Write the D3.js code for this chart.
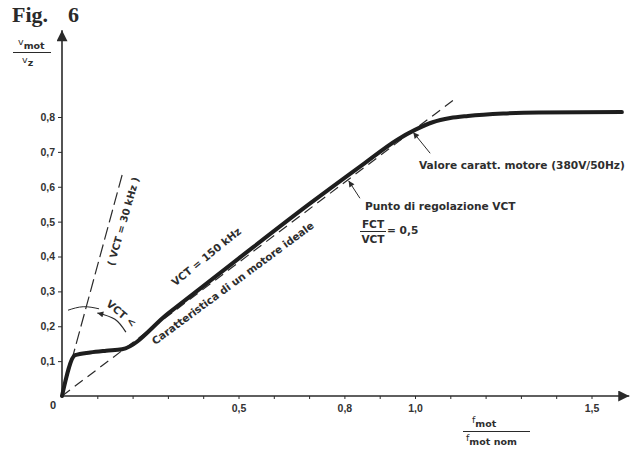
<!DOCTYPE html>
<html>
<head>
<meta charset="utf-8">
<script src="https://cdn.jsdelivr.net/npm/d3@7"></script>
<style>
  html, body { margin: 0; padding: 0; background: #ffffff; }
  svg { display: block; }
  text { fill: #2e2e2e; }
</style>
</head>
<body>
<script>
// ---- data ----
const xTicks = [0.1, 0.2, 0.3, 0.4, 0.5, 0.6, 0.7, 0.8, 0.9, 1.0, 1.1, 1.2, 1.3, 1.4, 1.5];
const xTickLabels = [0.5, 0.8, 1.0, 1.5];
const yTicks = [0.1, 0.2, 0.3, 0.4, 0.5, 0.6, 0.7, 0.8];

// real motor characteristic (thick curve)
const motorX = [0, 0.037, 0.08, 0.125, 0.17, 0.3, 0.5, 0.7, 0.85, 0.95, 1.0, 1.05, 1.1, 1.15, 1.25, 1.35, 1.586];
const motorY = [0, 0.117, 0.125, 0.13, 0.134, 0.236, 0.394, 0.55, 0.662, 0.735, 0.763, 0.785, 0.797, 0.803, 0.81, 0.813, 0.814];

// ideal motor characteristic (dashed)
const idealX = [0, 1.12];
const idealY = [0, 0.857];

// VCT = 30 kHz line (dashed)
const vct30X = [0, 0.172];
const vct30Y = [0, 0.64];

// "VCT <" arcs
const arcX = [0.017, 0.06, 0.105];
const arcY = [0.246, 0.256, 0.25];
const arrowArcX = [0.181, 0.150, 0.100];
const arrowArcY = [0.183, 0.220, 0.238];

// annotation arrows [from, to]
const valoreArrow = [[1.043, 0.696], [0.995, 0.756]];
const puntoArrow = [[0.844, 0.567], [0.812, 0.617]];

// ---- drawing ----
const W = 643, H = 455;
const SANS = "'DejaVu Sans', Verdana, sans-serif";
const TICKF = "'Liberation Sans', Arial, sans-serif";
const SERIF = "'Liberation Serif', 'Times New Roman', serif";
const svg = d3.select("body").append("svg").attr("width", W).attr("height", H);

const x = d3.scaleLinear().domain([0, 1.5]).range([62, 591.5]);
const y = d3.scaleLinear().domain([0, 0.8]).range([396, 117]);
const ink = "#2a2a2a";

const defs = svg.append("defs");
defs.append("marker").attr("id", "axArrow").attr("viewBox", "0 0 10 10")
  .attr("refX", 10).attr("refY", 5).attr("markerWidth", 16).attr("markerHeight", 11)
  .attr("markerUnits", "userSpaceOnUse").attr("orient", "auto")
  .append("path").attr("d", "M0,0 L10,5 L0,10 Z").attr("fill", ink);
defs.append("marker").attr("id", "smArrow").attr("viewBox", "0 0 10 10")
  .attr("refX", 10).attr("refY", 5).attr("markerWidth", 8).attr("markerHeight", 6)
  .attr("markerUnits", "userSpaceOnUse").attr("orient", "auto")
  .append("path").attr("d", "M0,0 L10,5 L0,10 Z").attr("fill", ink);

// axes
const xAxis = d3.axisBottom(x).tickValues(xTicks).tickSize(3).tickPadding(6)
  .tickFormat(d => xTickLabels.some(v => Math.abs(v - d) < 1e-9) ? d.toFixed(1).replace(".", ",") : "");
const gx = svg.append("g").attr("transform", `translate(0,${y(0)})`).call(xAxis);
gx.select(".domain").remove();
gx.selectAll(".tick line").attr("stroke", ink).attr("stroke-width", 1);
gx.selectAll(".tick text").style("font-family", TICKF).style("font-size", "10.5px")
  .style("font-weight", "bold").style("fill", "#333");

const yAxis = d3.axisLeft(y).tickValues(yTicks).tickSize(4).tickPadding(3)
  .tickFormat(d => d.toFixed(1).replace(".", ","));
const gy = svg.append("g").attr("transform", `translate(${x(0)},0)`).call(yAxis);
gy.select(".domain").remove();
gy.selectAll(".tick line").attr("stroke", ink).attr("stroke-width", 1);
gy.selectAll(".tick text").style("font-family", TICKF).style("font-size", "10.5px")
  .style("font-weight", "bold").style("fill", "#333");

svg.append("text").attr("x", x(0) - 9).attr("y", y(0) + 13).attr("text-anchor", "middle")
  .style("font-family", TICKF).style("font-size", "11px").style("font-weight", "bold").text("0");

// axis lines with arrows
svg.append("line").attr("x1", x(0)).attr("y1", y(0)).attr("x2", x(1.607)).attr("y2", y(0))
  .attr("stroke", ink).attr("stroke-width", 1.6).attr("marker-end", "url(#axArrow)");
svg.append("line").attr("x1", x(0)).attr("y1", y(0)).attr("x2", x(0)).attr("y2", y(1.049))
  .attr("stroke", ink).attr("stroke-width", 1.6).attr("marker-end", "url(#axArrow)");

const line = d3.line().x(d => x(d[0])).y(d => y(d[1]));

// dashed ideal line
svg.append("path").datum(d3.zip(idealX, idealY)).attr("d", line)
  .attr("fill", "none").attr("stroke", ink).attr("stroke-width", 1.2).attr("stroke-dasharray", "10,6");
// dashed 30 kHz line
svg.append("path").datum(d3.zip(vct30X, vct30Y)).attr("d", line)
  .attr("fill", "none").attr("stroke", ink).attr("stroke-width", 1.2).attr("stroke-dasharray", "13,5");

// motor curve
svg.append("path").datum(d3.zip(motorX, motorY))
  .attr("d", d3.line().x(d => x(d[0])).y(d => y(d[1])).curve(d3.curveMonotoneX))
  .attr("fill", "none").attr("stroke", "#1e1e1e").attr("stroke-width", 4)
  .attr("stroke-linejoin", "round").attr("stroke-linecap", "round");

// VCT arcs
const curved = d3.line().x(d => x(d[0])).y(d => y(d[1])).curve(d3.curveNatural);
svg.append("path").datum(d3.zip(arcX, arcY)).attr("d", curved)
  .attr("fill", "none").attr("stroke", ink).attr("stroke-width", 1);
svg.append("path").datum(d3.zip(arrowArcX, arrowArcY)).attr("d", curved)
  .attr("fill", "none").attr("stroke", ink).attr("stroke-width", 1.2).attr("marker-end", "url(#smArrow)");

// annotation arrows
[valoreArrow, puntoArrow].forEach(a => {
  svg.append("line").attr("x1", x(a[0][0])).attr("y1", y(a[0][1]))
    .attr("x2", x(a[1][0])).attr("y2", y(a[1][1]))
    .attr("stroke", ink).attr("stroke-width", 1).attr("marker-end", "url(#smArrow)");
});

function styled(sel, size) {
  return sel.style("font-family", SANS).style("font-size", (size || 10.6) + "px").style("font-weight", "bold");
}
// rotated labels
function rlabel(px, py, angle, txt, size) {
  styled(svg.append("text").attr("transform", `translate(${px},${py}) rotate(${angle})`)
    .attr("text-anchor", "middle").attr("dominant-baseline", "middle"), size).text(txt);
}
rlabel(x(0.175), y(0.5), -74, "( VCT = 30 kHz )", 10);
rlabel(x(0.41), y(0.398), -39, "VCT = 150 kHz", 10.4);
rlabel(x(0.485), y(0.322), -36.5, "Caratteristica di un motore ideale", 10.4);
rlabel(x(0.167), y(0.235), 40, "VCT <", 10.4);

// plain labels
styled(svg.append("text").attr("x", 419).attr("y", 169)).text("Valore caratt. motore (380V/50Hz)");
styled(svg.append("text").attr("x", 365).attr("y", 210)).text("Punto di regolazione VCT");
// FCT / VCT = 0,5
styled(svg.append("text").attr("x", 373).attr("y", 228).attr("text-anchor", "middle")).text("FCT");
svg.append("line").attr("x1", 360).attr("x2", 386).attr("y1", 231.5).attr("y2", 231.5).attr("stroke", ink).attr("stroke-width", 1);
styled(svg.append("text").attr("x", 373).attr("y", 243).attr("text-anchor", "middle")).text("VCT");
styled(svg.append("text").attr("x", 387).attr("y", 234)).text("= 0,5");

// title
svg.append("text").attr("x", 12).attr("y", 22).style("font-family", SERIF)
  .style("font-size", "22px").style("font-weight", "bold").style("fill", "#2a2a2a").text("Fig.");
svg.append("text").attr("x", 68).attr("y", 22).style("font-family", SERIF)
  .style("font-size", "22px").style("font-weight", "bold").style("fill", "#2a2a2a").text("6");

// y-axis label: v_mot / v_z
const yl = svg.append("text").attr("x", 18).attr("y", 45).style("font-family", SANS).style("font-size", "9.5px");
yl.append("tspan").text("v");
yl.append("tspan").attr("dy", 4).style("font-weight", "bold").text("mot");
svg.append("line").attr("x1", 13).attr("x2", 51).attr("y1", 52.5).attr("y2", 52.5).attr("stroke", ink).attr("stroke-width", 1);
const yl2 = svg.append("text").attr("x", 22).attr("y", 63).style("font-family", SANS).style("font-size", "9.5px");
yl2.append("tspan").text("v");
yl2.append("tspan").attr("dy", 3).style("font-weight", "bold").text("z");

// x-axis label: f_mot / f_mot nom
const xl = svg.append("text").attr("x", 472).attr("y", 423).style("font-family", SANS).style("font-size", "9.5px");
xl.append("tspan").text("f");
xl.append("tspan").attr("dy", 4).style("font-weight", "bold").text("mot");
svg.append("line").attr("x1", 463).attr("x2", 530).attr("y1", 431.5).attr("y2", 431.5).attr("stroke", ink).attr("stroke-width", 1);
const xl2 = svg.append("text").attr("x", 466).attr("y", 441).style("font-family", SANS).style("font-size", "9.5px");
xl2.append("tspan").text("f");
xl2.append("tspan").attr("dy", 4).style("font-weight", "bold").text("mot nom");
</script>
</body>
</html>
